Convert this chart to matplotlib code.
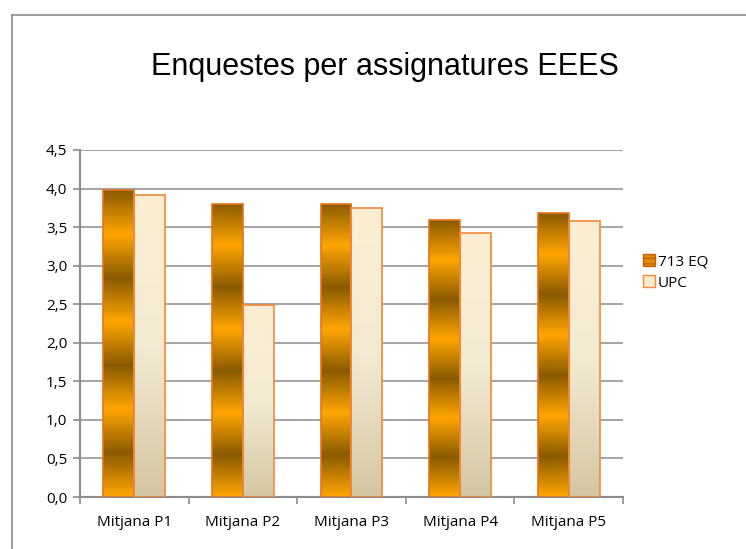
import numpy as np
from matplotlib import pyplot as plt
from matplotlib import patches
from matplotlib.colors import LinearSegmentedColormap
from matplotlib.lines import Line2D

categories = ['Mitjana P1', 'Mitjana P2', 'Mitjana P3', 'Mitjana P4', 'Mitjana P5']
eq713 = [3.98, 3.80, 3.80, 3.59, 3.68]
upc = [3.92, 2.49, 3.75, 3.42, 3.58]
yticks = [0.0, 0.5, 1.0, 1.5, 2.0, 2.5, 3.0, 3.5, 4.0, 4.5]

# metallic brown/orange stripes for 713 EQ, pale sand for UPC
metal = LinearSegmentedColormap.from_list(
    'metal', ['#FFA500', '#8A5A00', '#FFA500', '#8A5A00',
              '#FFA500', '#8A5A00', '#FFA500', '#8A5A00'])
sand = LinearSegmentedColormap.from_list('sand', ['#D5C6A2', '#F3EAD3', '#FDEED2'])

fig = plt.figure(figsize=(7.46, 5.49), dpi=100)
ax = fig.add_axes([0.1072, 0.0947, 0.7279, 0.6321])

x = np.arange(len(categories))
w = 0.285
bars1 = ax.bar(x - w / 2, eq713, w, facecolor='none', edgecolor='#E8741A', linewidth=1.2, zorder=3)
bars2 = ax.bar(x + w / 2, upc, w, facecolor='none', edgecolor='#F08A3A', linewidth=1.2, zorder=3)

grad = np.linspace(0, 1, 256).reshape(-1, 1)
for bars, cmap in ((bars1, metal), (bars2, sand)):
    for b in bars:
        x0, y0 = b.get_x(), b.get_y()
        im = ax.imshow(grad, cmap=cmap, origin='lower', aspect='auto', zorder=2,
                       extent=[x0, x0 + b.get_width(), y0, y0 + b.get_height()],
                       interpolation='bilinear')
        im.set_clip_path(b)

ax.set_xlim(-0.5, len(categories) - 0.5)
ax.set_ylim(0, 4.5)
ax.set_yticks(yticks)
ax.set_yticklabels([('%.1f' % v).replace('.', ',') for v in yticks])
ax.set_xticks(x)
ax.set_xticklabels(categories)
ax.set_xticks(np.arange(len(categories) + 1) - 0.5, minor=True)
ax.tick_params(axis='x', which='major', length=0, pad=13)
ax.tick_params(axis='x', which='minor', length=5, color='#8C8C8C', width=1.2)
ax.tick_params(axis='y', length=5, color='#8C8C8C', width=1.2, pad=4)
for lab in ax.get_xticklabels() + ax.get_yticklabels():
    lab.set_family(['Open Sans', 'DejaVu Sans'])
    lab.set_fontsize(11)

ax.yaxis.grid(True, color='#A6A6A6', linewidth=1.5, zorder=0)
ax.set_axisbelow(True)
for s in ('top', 'right'):
    ax.spines[s].set_visible(False)
for s in ('left', 'bottom'):
    ax.spines[s].set_color('#8C8C8C')
    ax.spines[s].set_linewidth(1.5)

fig.text(0.516, 0.878, 'Enquestes per assignatures EEES', ha='center', va='center',
         fontsize=22, family='Liberation Sans')

handles = [patches.Patch(facecolor='#E08A10', edgecolor='#C86000', hatch='---', label='713 EQ'),
           patches.Patch(facecolor='#FBE9CC', edgecolor='#F08A3A', label='UPC')]
leg = fig.legend(handles=handles, loc='center left', bbox_to_anchor=(0.843, 0.504),
                 frameon=False, handlelength=0.8, handleheight=0.8, handletextpad=0.2,
                 labelspacing=0.4, prop={'family': 'Open Sans', 'size': 11})

# chart frame (only top and left edges fall inside the picture)
fig.add_artist(Line2D([12 / 746, 12 / 746], [0, 1 - 15 / 549], color='#8C8C8C', linewidth=1.2))
fig.add_artist(Line2D([12 / 746, 1], [1 - 15 / 549, 1 - 15 / 549], color='#8C8C8C', linewidth=1.2))

plt.savefig('out.png', dpi=100)
